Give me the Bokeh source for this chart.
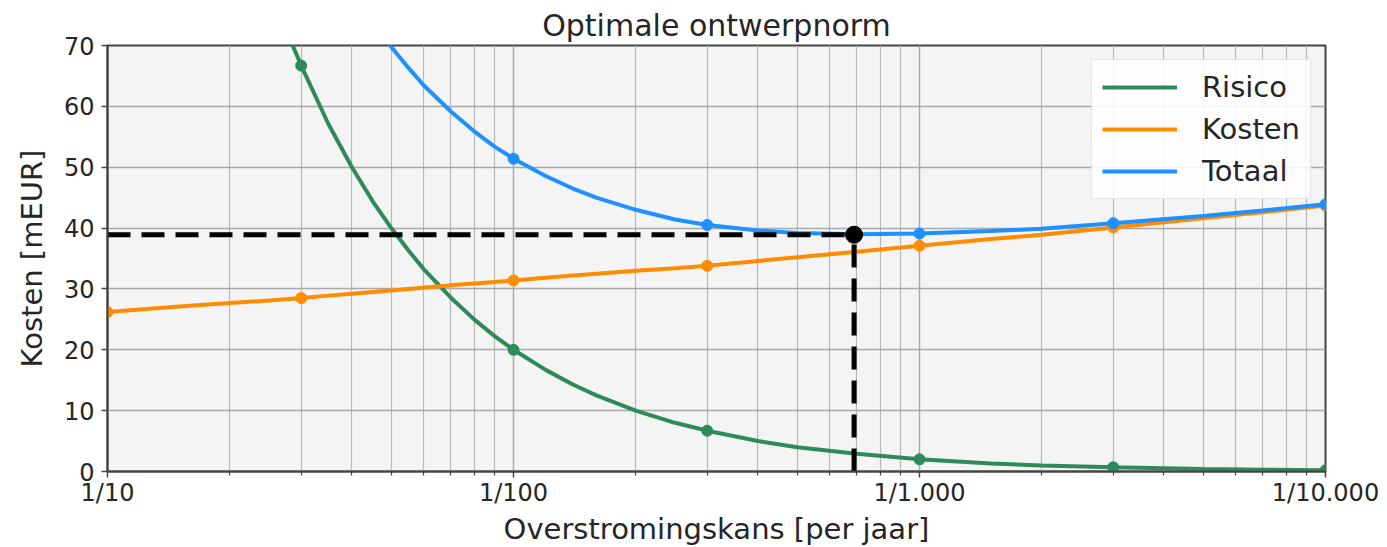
from bokeh.plotting import figure
from bokeh.models import Range1d, FixedTicker, Legend, LegendItem
from bokeh.embed import file_html
from bokeh.resources import INLINE

# ---- data ----
T_curve = [10, 15, 20, 25, 28, 30, 35, 40, 45, 50, 55, 60, 70, 80, 90, 100, 120, 140, 160,
           200, 250, 300, 400, 500, 700, 1000, 1500, 2000, 3000, 5000, 7000, 10000]
risico_curve = [200, 133, 100, 80, 71.4, 66.7, 57.1, 50, 44.4, 40, 36.4, 33.3, 28.6, 25, 22.2,
                20, 16.7, 14.3, 12.5, 10, 8, 6.7, 5, 4, 2.9, 2.0, 1.3, 1.0, 0.7, 0.4, 0.3, 0.2]
kosten_curve = [26.2, 27.1, 27.7, 28.1, 28.35, 28.5, 28.9, 29.2, 29.5, 29.75, 30.0, 30.2, 30.6,
                30.9, 31.15, 31.4, 31.85, 32.2, 32.5, 33.0, 33.4, 33.8, 34.6, 35.2, 36.1, 37.1,
                38.2, 38.9, 40.1, 41.6, 42.6, 43.7]
totaal_curve = [226.2, 160.1, 127.7, 108.1, 99.75, 95.2, 86.0, 79.2, 73.9, 69.75, 66.4, 63.5,
                59.2, 55.9, 53.35, 51.4, 48.55, 46.5, 45.0, 43.0, 41.4, 40.5, 39.6, 39.2, 39.0,
                39.1, 39.5, 39.9, 40.8, 42.0, 42.9, 43.9]

T_marks = [10, 30, 100, 300, 1000, 3000, 10000]
risico_marks = [200, 66.7, 20, 6.7, 2.0, 0.7, 0.2]
kosten_marks = [26.2, 28.5, 31.4, 33.8, 37.1, 40.1, 43.7]
totaal_marks = [226.2, 95.2, 51.4, 40.5, 39.1, 40.8, 43.9]

opt_T = [690]
opt_cost = [38.9]

x_ticks = [10, 100, 1000, 10000]
x_tick_labels = ["1/10", "1/100", "1/1.000", "1/10.000"]
x_minor = [20, 30, 40, 50, 60, 70, 80, 90, 200, 300, 400, 500, 600, 700, 800, 900,
           2000, 3000, 4000, 5000, 6000, 7000, 8000, 9000]
y_ticks = [0, 10, 20, 30, 40, 50, 60, 70]

GREEN = "#2e8b57"
ORANGE = "#ff8c00"
BLUE = "#1e90ff"
FONT = "DejaVu Sans"
TXT = "#262626"

p = figure(width=1379, height=539, x_axis_type="log", output_backend="svg",
           toolbar_location=None, x_range=Range1d(10, 10000), y_range=Range1d(0, 70),
           title="Optimale ontwerpnorm")
p.frame_width = 1218
p.frame_height = 426
p.min_border_left = 107
p.min_border_right = 54
p.min_border_top = 45
p.min_border_bottom = 68

p.background_fill_color = "#f4f4f4"
p.border_fill_color = "white"
p.outline_line_color = "#444444"
p.outline_line_width = 2

p.title.align = "center"
p.title.text_font = FONT
p.title.text_font_size = "30px"
p.title.text_font_style = "normal"
p.title.text_color = TXT
p.title.standoff = 6

# axes
xt = FixedTicker(ticks=x_ticks, minor_ticks=x_minor)
p.xaxis.ticker = xt
p.xgrid.ticker = xt
p.xaxis.major_label_overrides = {t: l for t, l in zip(x_ticks, x_tick_labels)}
yt = FixedTicker(ticks=y_ticks)
p.yaxis.ticker = yt
p.ygrid.ticker = yt

for ax in (p.xaxis, p.yaxis):
    ax.axis_line_color = "#444444"
    ax.axis_line_width = 2
    ax.major_tick_line_color = "#444444"
    ax.major_tick_line_width = 1.5
    ax.major_tick_out = 6
    ax.major_tick_in = 0
    ax.major_label_text_font = FONT
    ax.major_label_text_font_size = "24px"
    ax.major_label_text_color = TXT
    ax.axis_label_text_font = FONT
    ax.axis_label_text_font_size = "29px"
    ax.axis_label_text_font_style = "normal"
    ax.axis_label_text_color = TXT

p.xaxis.minor_tick_line_color = "#444444"
p.xaxis.minor_tick_line_width = 1.2
p.xaxis.minor_tick_out = 4
p.xaxis.minor_tick_in = 0
p.yaxis.minor_tick_line_color = None
p.xaxis.major_label_standoff = 1
p.yaxis.major_label_standoff = 7
p.xaxis.axis_label = "Overstromingskans [per jaar]"
p.yaxis.axis_label = "Kosten [mEUR]"
p.xaxis.axis_label_standoff = 2
p.yaxis.axis_label_standoff = 12

p.xgrid.grid_line_color = "#a8a8a8"
p.xgrid.grid_line_width = 1.5
p.xgrid.minor_grid_line_color = "#b8b8b8"
p.xgrid.minor_grid_line_width = 1.2
p.ygrid.grid_line_color = "#a8a8a8"
p.ygrid.grid_line_width = 1.5

# curves
r_risico = p.line(T_curve, risico_curve, line_color=GREEN, line_width=4)
p.scatter(T_marks, risico_marks, size=11, fill_color=GREEN, line_color=GREEN)
r_kosten = p.line(T_curve, kosten_curve, line_color=ORANGE, line_width=4)
p.scatter(T_marks, kosten_marks, size=11, fill_color=ORANGE, line_color=ORANGE)
r_totaal = p.line(T_curve, totaal_curve, line_color=BLUE, line_width=4)
p.scatter(T_marks, totaal_marks, size=11, fill_color=BLUE, line_color=BLUE)

# optimum
p.line([10, opt_T[0]], [opt_cost[0], opt_cost[0]], line_color="black", line_width=5,
       line_dash="23 11")
p.line([opt_T[0], opt_T[0]], [0, opt_cost[0]], line_color="black", line_width=5,
       line_dash="23 11")
p.scatter(opt_T, opt_cost, size=17, fill_color="black", line_color="black")

legend = Legend(items=[LegendItem(label="Risico", renderers=[r_risico]),
                       LegendItem(label="Kosten", renderers=[r_kosten]),
                       LegendItem(label="Totaal", renderers=[r_totaal])],
                location="top_right")
legend.label_text_font = FONT
legend.label_text_font_size = "29px"
legend.label_text_color = TXT
legend.glyph_width = 75
legend.glyph_height = 32
legend.label_height = 32
legend.label_standoff = 25
legend.spacing = 8
legend.padding = 10
legend.margin = 14
legend.background_fill_color = "white"
legend.background_fill_alpha = 0.85
legend.border_line_color = "#cccccc"
legend.border_line_width = 1
p.add_layout(legend, "center")

open("out.html", "w").write(file_html(p, INLINE))
